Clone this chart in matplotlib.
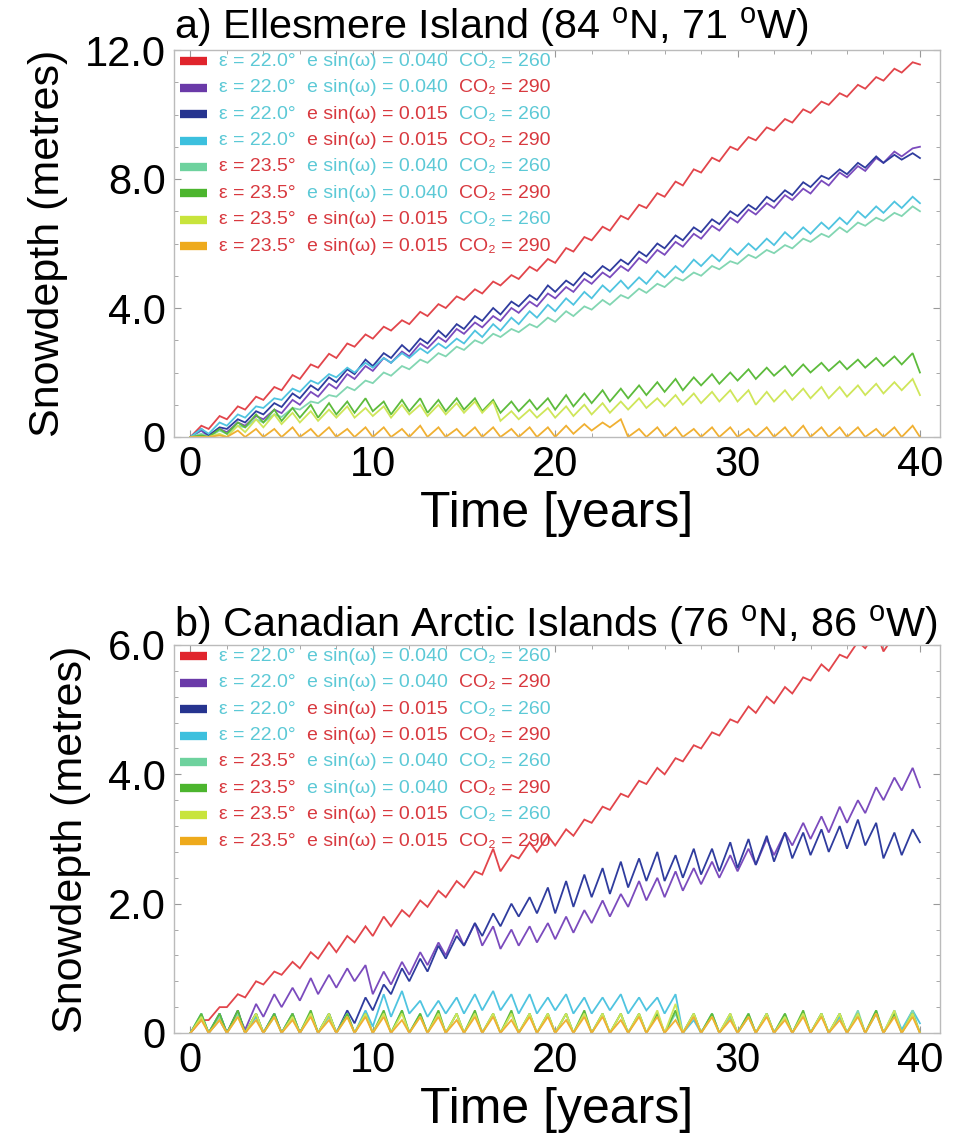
import numpy as np
import matplotlib
matplotlib.use("Agg")
import matplotlib.pyplot as plt
from matplotlib.offsetbox import TextArea, HPacker, VPacker, DrawingArea, AnchoredOffsetbox
from matplotlib.lines import Line2D
from matplotlib.ticker import MultipleLocator

plt.rcParams['font.family'] = ['Liberation Sans', 'DejaVu Sans']
plt.rcParams['mathtext.fontset'] = 'custom'
plt.rcParams['mathtext.rm'] = 'Liberation Sans'
plt.rcParams['mathtext.it'] = 'Liberation Sans:italic'

# ---------------- data ----------------
years_trough = np.arange(41)          # end-of-melt minima at each year
years_peak = np.arange(40) + 0.6      # late-winter maxima

obliquity = ["22.0", "22.0", "22.0", "22.0", "23.5", "23.5", "23.5", "23.5"]
esinw = ["0.040", "0.040", "0.015", "0.015", "0.040", "0.040", "0.015", "0.015"]
co2 = ["260", "290", "260", "290", "260", "290", "260", "290"]
series_colors = ["#e2454b", "#7b4bbd", "#2f3c9e", "#4fc4e0", "#82d6b2", "#5dbb3c", "#cfe65a", "#f0b032"]
legend_colors = ["#e0242c", "#6a3aa8", "#26348f", "#3cc0de", "#6ed29e", "#4cb52e", "#c8e43c", "#eeaa1c"]

# Panel a: Ellesmere Island
a_red_T = [0.0, 0.25, 0.55, 0.85, 1.15, 1.45, 1.8, 2.15, 2.45, 2.8, 3.05, 3.3, 3.5, 3.75, 4.0, 4.25, 4.45, 4.7, 4.9, 5.15,
           5.4, 5.75, 6.1, 6.4, 6.75, 7.1, 7.45, 7.8, 8.2, 8.55, 8.9, 9.2, 9.5, 9.75, 10.05, 10.3, 10.55, 10.8, 11.05, 11.3, 11.55]
a_red_P = [0.35, 0.65, 0.95, 1.25, 1.55, 1.92, 2.25, 2.58, 2.9, 3.18, 3.42, 3.62, 3.88, 4.12, 4.36, 4.58, 4.82, 5.02, 5.28, 5.52,
           5.86, 6.2, 6.52, 6.86, 7.2, 7.56, 7.92, 8.3, 8.66, 9.0, 9.3, 9.6, 9.86, 10.16, 10.4, 10.66, 10.92, 11.16, 11.42, 11.62]
a_purple_T = [0.0, 0.0, 0.15, 0.35, 0.55, 0.74, 1.0, 1.25, 1.5, 1.8, 2.05, 2.3, 2.5, 2.75, 2.95, 3.2, 3.4, 3.6, 3.85, 4.05,
              4.3, 4.5, 4.75, 4.95, 5.15, 5.4, 5.65, 5.9, 6.15, 6.4, 6.65, 6.9, 7.1, 7.35, 7.55, 7.8, 8.05, 8.25, 8.5, 8.7, 9.0]
a_purple_P = [0.2, 0.25, 0.45, 0.65, 0.85, 1.15, 1.4, 1.65, 1.95, 2.2, 2.45, 2.65, 2.9, 3.1, 3.35, 3.55, 3.75, 4.0, 4.2, 4.45,
              4.65, 4.9, 5.1, 5.3, 5.55, 5.8, 6.05, 6.3, 6.55, 6.8, 7.05, 7.25, 7.5, 7.7, 7.95, 8.2, 8.4, 8.65, 8.85, 8.95]
a_blue_T = [0.0, 0.05, 0.25, 0.45, 0.7, 0.93, 1.2, 1.45, 1.7, 1.95, 2.2, 2.45, 2.65, 2.9, 3.1, 3.35, 3.6, 3.8, 4.05, 4.25,
            4.5, 4.7, 4.95, 5.15, 5.35, 5.6, 5.85, 6.1, 6.35, 6.6, 6.85, 7.05, 7.3, 7.5, 7.75, 8.0, 8.15, 8.35, 8.5, 8.6, 8.65]
a_blue_P = [0.25, 0.3, 0.55, 0.8, 1.05, 1.35, 1.6, 1.85, 2.1, 2.4, 2.6, 2.85, 3.05, 3.3, 3.5, 3.75, 4.0, 4.2, 4.4, 4.7,
            4.85, 5.1, 5.3, 5.5, 5.75, 6.0, 6.25, 6.5, 6.75, 7.0, 7.2, 7.45, 7.65, 7.9, 8.1, 8.3, 8.5, 8.7, 8.75, 8.8]
a_cyan_T = [0.0, 0.1, 0.35, 0.6, 0.9, 1.15, 1.4, 1.65, 1.85, 2.0, 2.15, 2.3, 2.45, 2.6, 2.75, 2.9, 3.1, 3.3, 3.5, 3.7,
            3.9, 4.1, 4.3, 4.5, 4.6, 4.75, 4.95, 5.1, 5.3, 5.45, 5.65, 5.8, 5.95, 6.15, 6.3, 6.45, 6.6, 6.8, 6.95, 7.1, 7.25]
a_cyan_P = [0.25, 0.45, 0.7, 0.95, 1.2, 1.5, 1.75, 1.95, 2.15, 2.3, 2.45, 2.6, 2.75, 2.9, 3.05, 3.3, 3.5, 3.7, 3.9, 4.1,
            4.3, 4.5, 4.7, 4.85, 4.95, 5.15, 5.3, 5.5, 5.65, 5.85, 6.0, 6.15, 6.35, 6.5, 6.65, 6.8, 7.0, 7.15, 7.3, 7.45]
a_mint_T = [0.0, 0.0, 0.1, 0.3, 0.45, 0.62, 0.85, 1.05, 1.25, 1.45, 1.67, 1.9, 2.1, 2.3, 2.5, 2.7, 2.9, 3.1, 3.25, 3.4,
            3.57, 3.75, 3.95, 4.1, 4.3, 4.47, 4.65, 4.85, 5.0, 5.2, 5.37, 5.55, 5.7, 5.85, 6.05, 6.2, 6.35, 6.55, 6.7, 6.85, 7.0]
a_mint_P = [0.1, 0.2, 0.35, 0.55, 0.7, 0.9, 1.1, 1.3, 1.55, 1.75, 2.0, 2.2, 2.4, 2.6, 2.8, 3.0, 3.2, 3.35, 3.5, 3.7,
            3.9, 4.05, 4.25, 4.4, 4.6, 4.75, 4.95, 5.1, 5.3, 5.45, 5.65, 5.8, 5.95, 6.15, 6.3, 6.5, 6.65, 6.8, 6.95, 7.15]
a_green_T = [0.0, 0.0, 0.1, 0.3, 0.45, 0.5, 0.6, 0.6, 0.7, 0.75, 0.8, 0.7, 0.8, 0.75, 0.8, 0.85, 0.8, 0.75, 0.8, 0.85,
             0.85, 0.95, 1.05, 1.1, 1.2, 1.3, 1.4, 1.45, 1.6, 1.65, 1.75, 1.8, 1.9, 1.9, 2.0, 2.05, 2.1, 2.15, 2.2, 2.25, 2.0]
a_green_P = [0.05, 0.25, 0.45, 0.7, 0.85, 0.9, 1.0, 1.05, 1.1, 1.2, 1.1, 1.15, 1.2, 1.15, 1.2, 1.2, 1.15, 1.1, 1.15, 1.2,
             1.3, 1.35, 1.45, 1.5, 1.6, 1.7, 1.8, 1.85, 1.95, 2.0, 2.1, 2.15, 2.2, 2.25, 2.3, 2.35, 2.4, 2.45, 2.5, 2.6]
a_yellow_T = [0.0, 0.0, 0.0, 0.15, 0.3, 0.4, 0.45, 0.5, 0.6, 0.6, 0.65, 0.6, 0.7, 0.65, 0.7, 0.75, 0.75, 0.5, 0.55, 0.6,
              0.6, 0.65, 0.7, 0.75, 0.85, 0.9, 0.95, 1.0, 1.05, 1.1, 1.1, 1.0, 1.1, 1.15, 1.2, 1.2, 1.25, 1.3, 1.35, 1.45, 1.3]
a_yellow_P = [0.0, 0.1, 0.35, 0.55, 0.7, 0.75, 0.8, 0.85, 0.95, 0.9, 0.95, 1.0, 1.0, 1.0, 1.05, 1.1, 1.1, 0.8, 0.85, 0.9,
              0.95, 1.0, 1.05, 1.1, 1.2, 1.2, 1.3, 1.35, 1.4, 1.45, 1.45, 1.4, 1.45, 1.5, 1.55, 1.55, 1.6, 1.65, 1.7, 1.8]
a_orange_T = [0.0, 0.0, 0.0, 0.0, 0.0, 0.0, 0.0, 0.0, 0.0, 0.0, 0.0, 0.0, 0.0, 0.0, 0.0, 0.0, 0.0, 0.0, 0.0, 0.0,
              0.0, 0.1, 0.2, 0.3, 0.0, 0.0, 0.0, 0.0, 0.0, 0.0, 0.0, 0.0, 0.0, 0.0, 0.0, 0.0, 0.0, 0.0, 0.0, 0.0, 0.0]
a_orange_P = [0.0, 0.05, 0.2, 0.25, 0.25, 0.3, 0.25, 0.3, 0.25, 0.3, 0.3, 0.25, 0.35, 0.3, 0.25, 0.3, 0.3, 0.25, 0.3, 0.3,
              0.35, 0.4, 0.45, 0.55, 0.25, 0.3, 0.3, 0.25, 0.3, 0.3, 0.25, 0.3, 0.3, 0.35, 0.3, 0.3, 0.3, 0.25, 0.3, 0.35]

# Panel b: Canadian Arctic Islands
b_red_T = [0.0, 0.2, 0.4, 0.55, 0.75, 0.9, 1.0, 1.15, 1.25, 1.4, 1.5, 1.65, 1.8, 1.95, 2.1, 2.25, 2.45, 2.5, 2.7, 2.8,
           2.9, 3.05, 3.25, 3.45, 3.65, 3.85, 4.0, 4.2, 4.4, 4.6, 4.8, 4.95, 5.1, 5.25, 5.45, 5.6, 5.8, 5.95, 5.9, 6.15, 6.3]
b_red_P = [0.2, 0.4, 0.6, 0.8, 0.95, 1.1, 1.25, 1.4, 1.5, 1.65, 1.8, 1.9, 2.05, 2.2, 2.35, 2.5, 2.85, 2.75, 2.95, 3.05,
           3.15, 3.3, 3.5, 3.7, 3.9, 4.1, 4.25, 4.45, 4.65, 4.85, 5.05, 5.2, 5.35, 5.5, 5.7, 5.85, 6.05, 6.2, 6.15, 6.45]
b_purple_T = [0.0, 0.0, 0.0, 0.05, 0.25, 0.4, 0.5, 0.6, 0.7, 0.8, 0.6, 0.75, 0.9, 1.05, 1.2, 1.35, 1.35, 1.3, 1.35, 1.4,
              1.45, 1.55, 1.7, 1.8, 1.95, 2.05, 2.1, 2.2, 2.3, 2.4, 2.5, 2.6, 2.75, 2.9, 3.0, 3.1, 3.25, 3.4, 3.6, 3.75, 3.8]
b_purple_P = [0.25, 0.2, 0.3, 0.45, 0.6, 0.7, 0.85, 0.9, 1.0, 1.05, 0.95, 1.1, 1.25, 1.4, 1.6, 1.7, 1.65, 1.6, 1.65, 1.7,
              1.8, 1.9, 2.05, 2.15, 2.35, 2.4, 2.5, 2.55, 2.65, 2.75, 2.85, 3.0, 3.1, 3.25, 3.35, 3.5, 3.6, 3.8, 3.95, 4.1]
b_blue_T = [0.0, 0.0, 0.0, 0.0, 0.0, 0.0, 0.0, 0.0, 0.0, 0.15, 0.35, 0.6, 0.8, 0.95, 1.15, 1.35, 1.5, 1.65, 1.8, 1.85,
            1.85, 1.95, 2.1, 2.15, 2.25, 2.35, 2.35, 2.4, 2.45, 2.5, 2.55, 2.6, 2.65, 2.7, 2.75, 2.8, 2.85, 2.9, 2.7, 2.75, 2.95]
b_blue_P = [0.25, 0.3, 0.35, 0.3, 0.3, 0.3, 0.3, 0.3, 0.35, 0.55, 0.75, 1.0, 1.15, 1.35, 1.5, 1.7, 1.85, 2.0, 2.1, 2.25,
            2.35, 2.45, 2.55, 2.65, 2.7, 2.8, 2.75, 2.85, 2.85, 2.95, 3.0, 3.05, 3.1, 3.1, 3.15, 3.2, 3.3, 3.25, 3.1, 3.15]
b_cyan_T = [0.0, 0.0, 0.0, 0.0, 0.0, 0.0, 0.0, 0.0, 0.0, 0.0, 0.1, 0.25, 0.3, 0.25, 0.3, 0.3, 0.35, 0.35, 0.3, 0.3,
            0.35, 0.3, 0.3, 0.35, 0.3, 0.35, 0.3, 0.0, 0.0, 0.0, 0.0, 0.0, 0.0, 0.0, 0.0, 0.0, 0.0, 0.0, 0.0, 0.05, 0.15]
b_cyan_P = [0.3, 0.3, 0.3, 0.25, 0.3, 0.25, 0.3, 0.3, 0.3, 0.35, 0.6, 0.65, 0.5, 0.5, 0.55, 0.6, 0.65, 0.6, 0.6, 0.55,
            0.6, 0.55, 0.55, 0.6, 0.55, 0.55, 0.6, 0.2, 0.3, 0.25, 0.25, 0.3, 0.25, 0.3, 0.3, 0.25, 0.3, 0.3, 0.35, 0.35]
b_mint_T = [0.0] * 41
b_mint_P = [0.25, 0.25, 0.3, 0.3, 0.25, 0.3, 0.3, 0.25, 0.3, 0.3, 0.3, 0.35, 0.3, 0.3, 0.3, 0.3, 0.3, 0.3, 0.3, 0.3,
            0.3, 0.3, 0.3, 0.3, 0.3, 0.3, 0.3, 0.3, 0.3, 0.25, 0.3, 0.3, 0.3, 0.3, 0.3, 0.3, 0.35, 0.35, 0.3, 0.35]
b_green_T = [0.0] * 41
b_green_P = [0.3, 0.3, 0.35, 0.3, 0.3, 0.3, 0.35, 0.3, 0.3, 0.3, 0.35, 0.35, 0.3, 0.35, 0.3, 0.35, 0.3, 0.35, 0.3, 0.3,
             0.3, 0.35, 0.3, 0.3, 0.3, 0.3, 0.35, 0.3, 0.3, 0.3, 0.3, 0.3, 0.3, 0.35, 0.3, 0.3, 0.3, 0.35, 0.3, 0.3]
b_yellow_T = [0.0] * 41
b_yellow_P = [0.25, 0.2, 0.25, 0.3, 0.25, 0.25, 0.3, 0.3, 0.25, 0.3, 0.3, 0.3, 0.25, 0.3, 0.3, 0.3, 0.3, 0.3, 0.3, 0.3,
              0.3, 0.3, 0.3, 0.3, 0.3, 0.35, 0.45, 0.3, 0.25, 0.3, 0.25, 0.3, 0.25, 0.3, 0.3, 0.3, 0.3, 0.3, 0.35, 0.3]
b_orange_T = [0.0] * 41
b_orange_P = [0.2, 0.2, 0.25, 0.2, 0.25, 0.2, 0.25, 0.2, 0.25, 0.25, 0.25, 0.2, 0.25, 0.25, 0.2, 0.25, 0.25, 0.2, 0.25, 0.25,
              0.2, 0.25, 0.25, 0.2, 0.25, 0.25, 0.2, 0.25, 0.25, 0.2, 0.25, 0.25, 0.2, 0.25, 0.25, 0.2, 0.25, 0.3, 0.25, 0.25]

panel_a = [(a_red_T, a_red_P), (a_purple_T, a_purple_P), (a_blue_T, a_blue_P), (a_cyan_T, a_cyan_P),
           (a_mint_T, a_mint_P), (a_green_T, a_green_P), (a_yellow_T, a_yellow_P), (a_orange_T, a_orange_P)]
panel_b = [(b_red_T, b_red_P), (b_purple_T, b_purple_P), (b_blue_T, b_blue_P), (b_cyan_T, b_cyan_P),
           (b_mint_T, b_mint_P), (b_green_T, b_green_P), (b_yellow_T, b_yellow_P), (b_orange_T, b_orange_P)]

titles = [r"a) Ellesmere Island (84 $^{\mathrm{o}}$N, 71 $^{\mathrm{o}}$W)",
          r"b) Canadian Arctic Islands (76 $^{\mathrm{o}}$N, 86 $^{\mathrm{o}}$W)"]
ymax = [12.0, 6.0]
ytick_vals = [[0, 4, 8, 12], [0, 2, 4, 6]]
ytick_labels = [["0", "4.0", "8.0", "12.0"], ["0", "2.0", "4.0", "6.0"]]
xtick_vals = [0, 10, 20, 30, 40]

TXT_RED = "#d8393f"
TXT_CYAN = "#5cc9d6"
hi_vals = {"23.5", "0.015", "290"}


def txtcol(v):
    return TXT_RED if v in hi_vals else TXT_CYAN


def interleave(T, P):
    x = np.empty(81)
    y = np.empty(81)
    x[0::2] = years_trough
    x[1::2] = years_peak
    y[0::2] = T
    y[1::2] = P
    return x, y


W, H = 954, 1139
fig = plt.figure(figsize=(W / 100, H / 100), dpi=100)
axes_rects = [
    [174 / W, 1 - 437 / H, (940 - 174) / W, (437 - 50) / H],
    [174 / W, 1 - 1033 / H, (940 - 174) / W, (1033 - 645) / H],
]
minor_y = [1.0, 0.4]
title_off = [12 / 387, 9 / 388]

for p, (rect, data) in enumerate(zip(axes_rects, [panel_a, panel_b])):
    ax = fig.add_axes(rect)
    for i, (T, P) in enumerate(data):
        x, y = interleave(T, P)
        ax.plot(x, y, color=series_colors[i], lw=1.3, solid_joinstyle='miter')
    ax.set_xlim(-0.9, 41.1)
    ax.set_ylim(0, ymax[p])
    ax.set_xticks(xtick_vals)
    ax.set_xticklabels([str(v) for v in xtick_vals])
    ax.set_yticks(ytick_vals[p])
    ax.set_yticklabels(ytick_labels[p])
    ax.xaxis.set_minor_locator(MultipleLocator(2))
    ax.yaxis.set_minor_locator(MultipleLocator(minor_y[p]))
    ax.tick_params(which='both', direction='in', top=True, right=True, color='#999999')
    ax.tick_params(which='major', length=5, labelsize=30, pad=6)
    ax.tick_params(which='minor', length=3)
    for s in ax.spines.values():
        s.set_color('#bbbbbb')
        s.set_linewidth(1.0)
    ax.set_xlabel("Time [years]", fontsize=36, labelpad=4)
    ax.set_ylabel("Snowdepth (metres)", fontsize=31, labelpad=12)
    ax.text(0.0, 1.0 + title_off[p], titles[p], transform=ax.transAxes, ha='left', va='baseline', fontsize=29.8)

    rows = []
    for i in range(8):
        da = DrawingArea(20, 12, 0, 0)
        da.add_artist(Line2D([0, 19], [6, 6], color=legend_colors[i], lw=6, solid_capstyle='butt'))
        tp = dict(fontsize=14)
        t1 = TextArea("\u03b5 = " + obliquity[i] + "\u00b0", textprops=dict(color=txtcol(obliquity[i]), **tp))
        t2 = TextArea("e sin(\u03c9) = " + esinw[i], textprops=dict(color=txtcol(esinw[i]), **tp))
        t3 = TextArea("CO\u2082 = " + co2[i], textprops=dict(color=txtcol(co2[i]), **tp))
        rows.append(HPacker(children=[da, t1, t2, t3], sep=8, align='center', pad=0))
    vp = VPacker(children=rows, sep=6.8, align='left', pad=0)
    ab = AnchoredOffsetbox(loc='upper left', child=vp, frameon=False, bbox_to_anchor=(0.008, 0.993),
                           bbox_transform=ax.transAxes, borderpad=0, pad=0)
    ax.add_artist(ab)

fig.savefig("out.png", dpi=100)
